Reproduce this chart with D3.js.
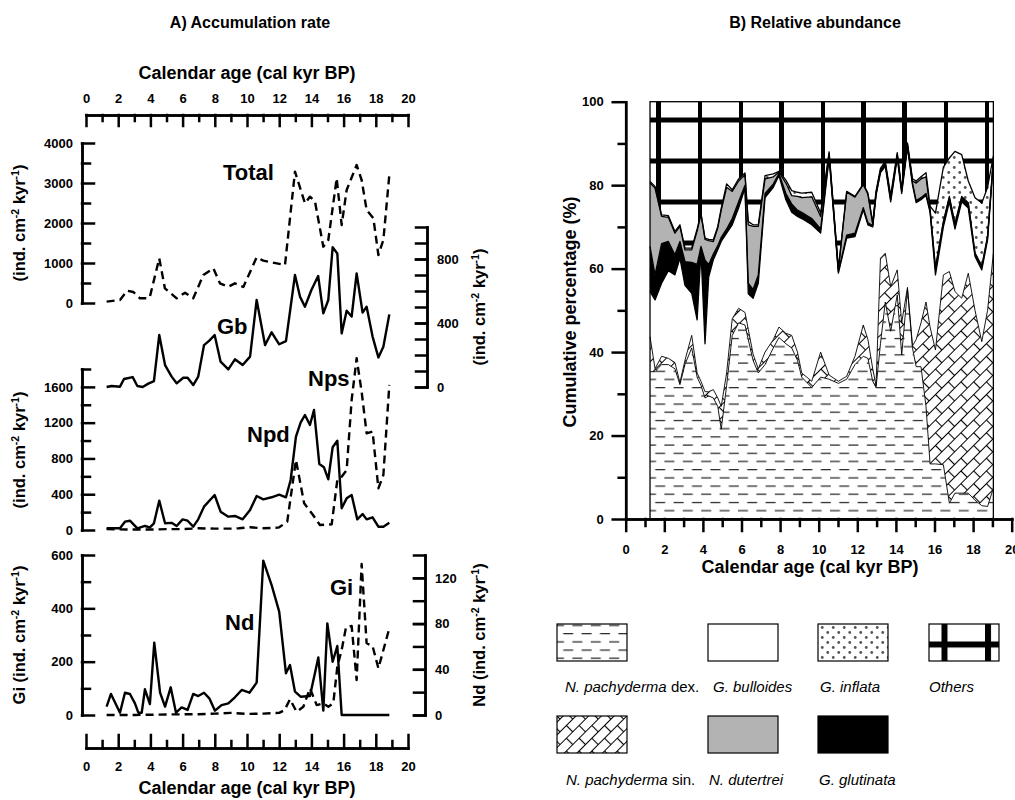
<!DOCTYPE html>
<html>
<head>
<meta charset="utf-8">
<script src="https://cdn.jsdelivr.net/npm/d3@7"></script>
<style>
body { margin: 0; background: #fff; }
svg text { font-family: "Liberation Sans", Arial, sans-serif; fill: #000; }
.axis text { font-family: "Liberation Sans", Arial, sans-serif; font-size: 13px; font-weight: bold; }
.title { font-size: 16px; font-weight: bold; }
.xtitle { font-size: 18px; font-weight: bold; }
.ylab { font-size: 16.5px; font-weight: bold; }
.serie { font-size: 22px; font-weight: bold; }
.key { font-size: 15px; }
</style>
</head>
<body>
<div id="chart"></div>
<script>
// ---- A) accumulation rates, [age (cal kyr BP), ind. cm-2 kyr-1]
var totalAcc = [[1.28,33],[2.11,75],[2.56,308],[2.94,275],[3.35,117],[3.87,117],[3.97,158],[4.55,1117],[4.9,367],[5.63,117],[6.15,258],[6.66,117],[7.29,700],[7.91,867],[8.32,492],[8.84,408],[9.25,492],[9.77,400],[10.6,1142],[11.01,1058],[12.36,950],[12.98,3283],[13.6,2492],[13.91,2658],[14.22,2542],[14.74,1408],[15.05,1575],[15.57,3117],[15.88,1950],[16.19,2825],[16.81,3450],[17.12,3075],[17.43,2325],[17.85,2117],[18.16,1200],[18.47,1575],[18.84,3200]];
var gbAcc = [[1.28,0],[1.59,6],[2.11,2],[2.36,50],[2.9,62],[3.19,6],[3.52,0],[3.87,21],[4.22,37],[4.55,325],[4.91,137],[5.32,65],[5.63,23],[6.04,58],[6.31,58],[6.66,12],[6.97,65],[7.33,262],[7.66,290],[7.99,325],[8.36,158],[8.84,110],[9.25,173],[9.73,137],[10.19,190],[10.6,544],[11.12,262],[11.53,342],[12.0,267],[12.42,287],[12.98,700],[13.29,565],[13.6,502],[14.0,606],[14.42,694],[14.74,460],[15.05,544],[15.32,873],[15.61,835],[15.88,335],[16.19,477],[16.5,440],[16.81,710],[17.18,465],[17.43,502],[17.8,315],[18.16,185],[18.47,252],[18.84,454]];
var npdAcc = [[1.28,19],[2.11,19],[2.42,93],[2.73,104],[3.19,19],[3.66,45],[3.97,30],[4.22,75],[4.55,328],[4.91,75],[5.32,80],[5.63,45],[6.0,119],[6.31,104],[6.66,37],[6.97,119],[7.33,261],[7.99,391],[8.36,205],[8.84,149],[9.25,157],[9.73,119],[10.19,224],[10.6,380],[11.01,343],[11.53,366],[12.0,395],[12.42,366],[12.71,559],[13.04,1044],[13.33,1200],[13.6,1286],[13.91,1174],[14.16,1342],[14.49,738],[14.78,701],[15.05,567],[15.32,925],[15.61,999],[15.88,243],[16.19,354],[16.5,391],[16.85,119],[17.18,179],[17.43,119],[17.8,142],[18.16,37],[18.47,37],[18.84,82]];
var npsAcc = [[1.28,10],[2.5,5],[4.0,5],[5.0,10],[6.0,10],[6.97,19],[8.0,15],[9.0,15],[9.5,20],[10.19,30],[11.0,20],[11.8,25],[12.0,30],[12.5,93],[13.04,783],[13.55,298],[14.1,168],[14.53,56],[15.26,63],[15.61,559],[15.88,596],[16.19,671],[16.5,1454],[16.81,1920],[17.12,1547],[17.43,1081],[17.8,1100],[18.16,466],[18.47,615],[18.84,1622]];
var ndAcc = [[1.28,7.3],[1.55,18.4],[2.11,2],[2.42,19.5],[2.73,18.4],[3.04,10.2],[3.25,2],[3.46,2],[3.66,22.5],[3.97,9.6],[4.24,63.3],[4.6,19.5],[4.91,7.3],[5.26,24.2],[5.59,2],[5.94,6.7],[6.31,4.4],[6.66,18.4],[6.97,16.6],[7.33,19.5],[7.66,14.6],[8.01,3.8],[8.42,8.7],[8.84,10.2],[9.25,15.5],[9.67,21.9],[10.15,19.5],[10.6,28.3],[11.01,135],[11.53,113.7],[12.0,90.4],[12.42,36.5],[12.67,43.7],[12.98,20.4],[13.33,16],[13.91,16.6],[14.43,50.4],[14.74,3.8],[14.99,80.2],[15.32,46.6],[15.61,60.4],[15.88,0],[16.5,0],[17.5,0],[18.84,0]];
var giAcc = [[1.28,0],[3,0],[5,2],[7,3],[8,5],[9,8],[10,4],[11,5],[12,8],[12.34,19],[12.67,59],[13.08,12],[13.5,31],[13.91,100],[14.33,37],[14.74,44],[15.05,31],[15.36,44],[15.61,181],[15.88,244],[16.15,329],[16.5,334],[16.81,131],[17.12,566],[17.43,269],[17.8,259],[18.16,175],[18.84,325]];

// ---- B) relative abundance, cumulative percentage at the top of each group
var agesB = [1.26,1.52,1.86,2.21,2.55,2.81,3.07,3.42,3.7,3.9,4.11,4.3,4.54,4.77,4.95,5.23,5.52,5.85,6.18,6.35,6.6,6.87,7.22,7.65,7.94,8.3,8.6,8.9,9.12,9.64,10.1,10.54,11.02,11.45,11.88,12.31,12.55,12.8,12.97,13.2,13.45,13.73,14.07,14.3,14.6,14.86,15.05,15.3,15.56,15.77,16.05,16.46,16.77,17.06,17.41,17.75,18.1,18.45,18.75,19.05];
var cumDex = [35.3,35.3,37,37,36,32.2,37,41,34,32,29,29.5,29,27,21.5,32,44,47,46.5,43,38,35,37,41,43.5,42,41,38,34,31.5,34,33.5,32.5,33.5,37,39,38.5,33,31.5,42,52,45,53.7,39.3,55,41,36.5,36.5,27,13.2,13.2,13,3.8,6.2,6.2,6.2,4.5,3.2,3,7.4];
var cumSin = [43.7,36,39,38.5,37.5,32.7,38,44,35,33,30.5,30.5,31,29,27,35,48,50.5,49.5,45.5,39.5,36,40,43,46,44.5,44,40,35,33,40,34.5,33,34.2,39,46.5,43,36,32,62.5,63.7,55.7,59.7,47,55.5,41.5,43,47,52,46,40.5,58.5,59.3,54.5,52.9,58.9,50,42.5,50,63.7];
var cumBul = [54.5,52.5,56.5,59.5,58.5,62.5,56,54.1,47.7,64,42,58,62.1,64.5,66.5,68.5,70.5,74.5,79.3,54,52.9,56.5,77,79.5,82.3,76.5,73.5,72.5,72,70.5,68.5,86.5,58.9,67.3,67.7,74.1,70.5,70,77.5,83,84.5,76,86.5,78,89,80,75.8,76.5,77.5,73.5,58.5,70,76,69.5,76,74.5,62.9,59.7,66.9,85.5];
var cumGlu = [65.3,58.5,66,66.5,63.3,66.5,61.7,61.5,61,65.3,62,61,63.5,65.5,67.5,69.5,72,76,80,56.5,55,58.5,78,80.3,82.8,78,75.5,74,73.5,72,69.5,87,59.3,68,68.5,74.6,71,70.3,77.8,83.3,85,76.5,87,78.5,89.5,80.5,76.3,77,78,74,60,71,77,70.5,77,75.5,63.5,60.3,67.5,86];
var cumDut = [80.5,79.3,72.5,72.3,68.5,70.1,64.5,64.5,69,73,67,66.7,66.5,69.7,74,79.5,78.5,81,82.5,70.5,70.1,70.1,81.5,82,83.1,80.5,77.5,77.3,77,77.2,72.5,87.6,59.7,78.3,77.1,80.1,77.8,70.6,78.2,83.6,85.3,77,87.4,78.8,89.8,81,80.5,81.5,82,74.3,60.3,71.3,77.3,70.8,77.3,75.8,63.8,60.6,67.8,86.3];
var cumInf = [80.9,79.7,72.9,72.7,68.9,70.5,64.9,64.9,69.5,73.3,67.3,67,66.9,70.1,74.5,80.3,78.9,81.5,82.9,71.3,70.5,70.5,82.3,82.7,83.3,81.2,78.7,78.3,78.1,78.3,73.3,88,60,78.5,77.3,80.3,78.1,71,78.5,84,85.7,77.5,87.8,79.2,90.1,81.5,81,82,83,75,73.3,84.3,86.5,88.1,87.3,81,77,75.7,79.5,87];

var width = 1015, height = 800;
var svg = d3.select("#chart").append("svg")
    .attr("width", width)
    .attr("height", height);
var defs = svg.append("defs");

// ---------- fill patterns
function othersPattern(id, ox, oy, size, bar) {
    var p = defs.append("pattern").attr("id", id)
        .attr("patternUnits", "userSpaceOnUse")
        .attr("x", ox).attr("y", oy)
        .attr("width", size).attr("height", size);
    p.append("rect").attr("width", size).attr("height", size).attr("fill", "#fff");
    p.append("rect").attr("width", bar).attr("height", size).attr("fill", "#000");
    p.append("rect").attr("width", size).attr("height", bar).attr("fill", "#000");
}
othersPattern("others", 656, 117.5, 41, 5);
othersPattern("othersKey", 941.5, 641.5, 43.5, 6);

var dex = defs.append("pattern").attr("id", "dex")
    .attr("patternUnits", "userSpaceOnUse")
    .attr("x", 2).attr("y", 506.7)
    .attr("width", 18.4).attr("height", 16.4);
dex.append("rect").attr("width", 18.4).attr("height", 16.4).attr("fill", "#fff");
dex.append("path").attr("d", "M0,4H10M9.2,12.2H19.2M-9.2,12.2H0.8")
    .attr("stroke", "#222").attr("stroke-width", 1.1).attr("fill", "none");

// brick hatch, turned 45 degrees
var sin = defs.append("pattern").attr("id", "sin")
    .attr("patternUnits", "userSpaceOnUse")
    .attr("width", 18).attr("height", 18)
    .attr("patternTransform", "rotate(-45)");
sin.append("rect").attr("width", 18).attr("height", 18).attr("fill", "#fff");
sin.append("path").attr("d", "M0,4.5H18M0,13.5H18M4.5,4.5V13.5M13.5,13.5V18M13.5,0V4.5")
    .attr("stroke", "#000").attr("stroke-width", 1.1).attr("fill", "none");

var inf = defs.append("pattern").attr("id", "inf")
    .attr("patternUnits", "userSpaceOnUse")
    .attr("width", 11).attr("height", 10);
inf.append("rect").attr("width", 11).attr("height", 10).attr("fill", "#fff");
inf.append("circle").attr("cx", 2.75).attr("cy", 2.5).attr("r", 1.4).attr("fill", "#555");
inf.append("circle").attr("cx", 8.25).attr("cy", 7.5).attr("r", 1.4).attr("fill", "#555");

// ---------- axis helper (major + minor ticks)
function axisPair(make, scale, tr, majors, minors, majLen, minLen, pad) {
    var g = svg.append("g").attr("class", "axis").attr("transform", tr);
    if (minors.length) {
        g.append("g").call(make(scale).tickValues(minors)
            .tickSizeInner(minLen).tickSizeOuter(0).tickFormat(""));
    }
    g.append("g").call(make(scale).tickValues(majors)
        .tickSizeInner(majLen).tickSizeOuter(0).tickPadding(pad)
        .tickFormat(d3.format("d")));
    g.selectAll("path, line").attr("stroke-width", 2.5).attr("stroke-linecap", "square");
    return g;
}

// =========== A) Accumulation rate
var xA = d3.scaleLinear().domain([0, 20]).range([86, 408]);
var yTotal = d3.scaleLinear().domain([0, 4000]).range([303, 143]);
var yGb = d3.scaleLinear().domain([0, 1000]).range([387, 227]);
var yNp = d3.scaleLinear().domain([0, 1800]).range([530, 369]);
var yGi = d3.scaleLinear().domain([0, 600]).range([715, 555]);
var yNd = d3.scaleLinear().domain([0, 140]).range([715, 555]);

var evens = d3.range(0, 21, 2), odds = d3.range(1, 20, 2);
axisPair(d3.axisTop, xA, "translate(0,115)", evens, odds, -11, -6, 12);
axisPair(d3.axisBottom, xA, "translate(0,748)", evens, odds, -13, -7, 14);
axisPair(d3.axisLeft, yTotal, "translate(82,0)", d3.range(0, 4001, 1000), d3.range(500, 4000, 1000), -12, -8, 9);
axisPair(d3.axisLeft, yNp, "translate(82,0)", d3.range(0, 1601, 400), d3.range(200, 1801, 400), -12, -8, 9);
axisPair(d3.axisLeft, yGi, "translate(82,0)", d3.range(0, 601, 200), d3.range(100, 600, 200), -12, -8, 9);
axisPair(d3.axisRight, yGb, "translate(427,0)", [0, 400, 800], d3.range(0, 1001, 100), -11, -11, 10);
axisPair(d3.axisRight, yNd, "translate(425,0)", [0, 40, 80, 120], d3.range(0, 141, 20), -11, -11, 10);

function drawSeries(data, y, dashed) {
    var line = d3.line()
        .x(function(d) { return xA(d[0]); })
        .y(function(d) { return y(d[1]); });
    svg.append("path")
        .datum(data)
        .attr("d", line)
        .attr("fill", "none")
        .attr("stroke", "#000")
        .attr("stroke-width", 2.4)
        .attr("stroke-linejoin", "round")
        .attr("stroke-dasharray", dashed ? "8,5" : null);
}
drawSeries(totalAcc, yTotal, true);
drawSeries(gbAcc, yGb, false);
drawSeries(npsAcc, yNp, true);
drawSeries(npdAcc, yNp, false);
drawSeries(giAcc, yGi, true);
drawSeries(ndAcc, yNd, false);

var serieLabels = [["Total", 223, 180], ["Gb", 217, 334], ["Nps", 308, 386], ["Npd", 247, 442], ["Nd", 225, 630], ["Gi", 330, 595]];
serieLabels.forEach(function(d) {
    svg.append("text").attr("class", "serie").attr("x", d[1]).attr("y", d[2]).text(d[0]);
});

function unitLabel(x, y, prefix) {
    var t = svg.append("text").attr("class", "ylab")
        .attr("transform", "translate(" + x + "," + y + ") rotate(-90)")
        .attr("text-anchor", "middle");
    t.append("tspan").text(prefix + "(ind. cm");
    t.append("tspan").attr("dy", -6).style("font-size", "10.5px").text("-2");
    t.append("tspan").attr("dy", 6).text(" kyr");
    t.append("tspan").attr("dy", -6).style("font-size", "10.5px").text("-1");
    t.append("tspan").attr("dy", 6).text(")");
}
unitLabel(25, 223, "");
unitLabel(25, 450, "");
unitLabel(25, 635, "Gi ");
unitLabel(485, 307, "");
unitLabel(485, 635, "Nd ");

svg.append("text").attr("class", "title").attr("x", 250).attr("y", 28)
    .attr("text-anchor", "middle").text("A) Accumulation rate");
svg.append("text").attr("class", "xtitle").attr("x", 247).attr("y", 79)
    .attr("text-anchor", "middle").text("Calendar age (cal kyr BP)");
svg.append("text").attr("class", "xtitle").attr("x", 247).attr("y", 794)
    .attr("text-anchor", "middle").text("Calendar age (cal kyr BP)");

// =========== B) Relative abundance
var xB = d3.scaleLinear().domain([0, 20]).range([625.7, 1011.7]);
var yB = d3.scaleLinear().domain([0, 100]).range([519, 101.7]);
var idx = d3.range(agesB.length);

var layers = [
    [null, cumDex, "url(#dex)"],
    [cumDex, cumSin, "url(#sin)"],
    [cumSin, cumBul, "#fff"],
    [cumBul, cumGlu, "#000"],
    [cumGlu, cumDut, "#b3b3b3"],
    [cumDut, cumInf, "url(#inf)"],
    [cumInf, null, "url(#others)"]
];
layers.forEach(function(l) {
    var area = d3.area()
        .x(function(i) { return xB(agesB[i]); })
        .y0(function(i) { return yB(l[0] ? l[0][i] : 0); })
        .y1(function(i) { return yB(l[1] ? l[1][i] : 100); });
    svg.append("path").datum(idx).attr("d", area).attr("fill", l[2]).attr("stroke", "none");
});

[cumDex, cumSin, cumBul, cumGlu, cumDut, cumInf].forEach(function(c, k) {
    var line = d3.line()
        .x(function(i) { return xB(agesB[i]); })
        .y(function(i) { return yB(c[i]); });
    svg.append("path").datum(idx).attr("d", line)
        .attr("fill", "none").attr("stroke", "#000")
        .attr("stroke-width", k >= 2 ? 1.3 : 0.9)
        .attr("stroke-linejoin", "round");
});

svg.append("rect")
    .attr("x", xB(agesB[0])).attr("y", yB(100))
    .attr("width", xB(agesB[agesB.length - 1]) - xB(agesB[0]))
    .attr("height", yB(0) - yB(100))
    .attr("fill", "none").attr("stroke", "#000").attr("stroke-width", 1.3);

axisPair(d3.axisLeft, yB, "translate(625.7,0)", d3.range(0, 101, 20), d3.range(10, 100, 20), 13, 7, 9);
axisPair(d3.axisBottom, xB, "translate(0,519)", evens, odds, 12, 7, 14);

svg.append("text").attr("class", "title").attr("x", 815).attr("y", 28)
    .attr("text-anchor", "middle").text("B) Relative abundance");
svg.append("text").attr("class", "xtitle").attr("x", 810).attr("y", 573)
    .attr("text-anchor", "middle").text("Calendar age (cal kyr BP)");
svg.append("text").attr("class", "xtitle")
    .attr("transform", "translate(576,312) rotate(-90)")
    .attr("text-anchor", "middle").text("Cumulative percentage (%)");

// legend
var keys = [
    ["url(#dex)", 557, 624, "N. pachyderma", " dex.", 565, 692],
    ["#fff", 708, 624, "G. bulloides", "", 713, 692],
    ["url(#inf)", 818, 624, "G. inflata", "", 820, 692],
    ["url(#othersKey)", 929, 624, "", "Others", 929, 692],
    ["url(#sin)", 557, 716, "N. pachyderma", " sin.", 566, 785],
    ["#b3b3b3", 708, 716, "N. dutertrei", "", 709, 785],
    ["#000", 818, 716, "G. glutinata", "", 819, 785]
];
keys.forEach(function(k) {
    svg.append("rect").attr("x", k[1]).attr("y", k[2]).attr("width", 70).attr("height", 37)
        .attr("fill", k[0]).attr("stroke", "#000").attr("stroke-width", 1.2);
    var t = svg.append("text").attr("class", "key").attr("x", k[5]).attr("y", k[6]);
    if (k[3]) t.append("tspan").style("font-style", "italic").text(k[3]);
    if (k[4]) t.append("tspan").style("font-style", k[4] === "Others" ? "italic" : "normal").text(k[4]);
});
</script>
</body>
</html>
